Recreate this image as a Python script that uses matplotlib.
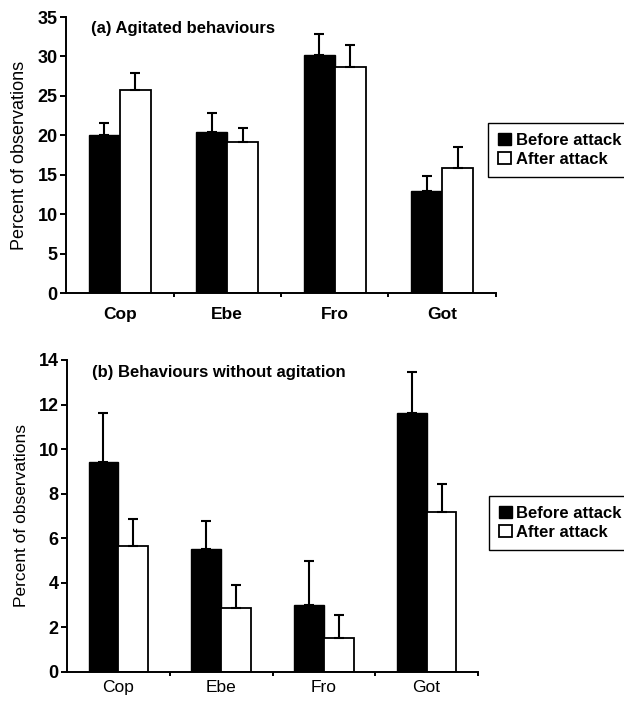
import matplotlib
matplotlib.use("Agg")
import matplotlib.pyplot as plt
import numpy as np

plt.rcParams['font.family'] = ['Liberation Sans', 'DejaVu Sans']

categories = ["Cop", "Ebe", "Fro", "Got"]
series_names = ["Before attack", "After attack"]

# (a) Agitated behaviours
a_before = [20.0, 20.4, 30.2, 12.9]
a_before_err = [1.5, 2.4, 2.7, 2.0]
a_after = [25.7, 19.2, 28.6, 15.8]
a_after_err = [2.2, 1.7, 2.8, 2.7]

# (b) Behaviours without agitation
b_before = [9.4, 5.5, 3.0, 11.6]
b_before_err = [2.2, 1.25, 1.95, 1.85]
b_after = [5.66, 2.85, 1.5, 7.16]
b_after_err = [1.2, 1.05, 1.05, 1.26]

W, H = 624, 705
fig = plt.figure(figsize=(W/100, H/100), dpi=100)


def legend_for(ax, anchor):
    h, l = ax.get_legend_handles_labels()
    leg = fig.legend(h, l, loc='upper left', bbox_to_anchor=anchor, fontsize=12,
                     frameon=True, fancybox=False, framealpha=1, edgecolor='black',
                     handlelength=0.75, handleheight=0.75, handletextpad=0.3,
                     labelspacing=0.22, borderpad=0.6, borderaxespad=0)
    leg.get_frame().set_linewidth(1.0)
    for t in leg.get_texts():
        t.set_fontweight('bold')


def panel(rect, before, before_err, after, after_err, ymax, ystep, title, title_pos,
          bold_ticks, xlab_pad, anchor, ylab_size, ylab_x):
    ax = fig.add_axes(rect)
    x = np.arange(len(categories))
    w = 0.29
    ekw = dict(ecolor='black', elinewidth=1.5, capsize=3.5, capthick=1.5)
    ax.bar(x - w/2, before, w, color='black', edgecolor='black', linewidth=1.0,
           yerr=[np.zeros(4), before_err], error_kw=ekw, label=series_names[0], zorder=2)
    ax.bar(x + w/2, after, w, color='white', edgecolor='black', linewidth=1.3,
           yerr=[np.zeros(4), after_err], error_kw=ekw, label=series_names[1], zorder=2)
    ax.set_xlim(-0.5, 3.5)
    ax.set_ylim(0, ymax)
    ax.set_yticks(np.arange(0, ymax + 0.01, ystep))
    for s in ['top', 'right']:
        ax.spines[s].set_visible(False)
    for s in ['left', 'bottom']:
        ax.spines[s].set_linewidth(1.4)
    weight = 'bold' if bold_ticks else 'normal'
    ax.set_xticks(x)
    ax.set_xticklabels(categories, fontsize=12.5, fontweight=weight)
    ax.tick_params(axis='x', which='major', length=0, pad=xlab_pad)
    ax.set_xticks([0.5, 1.5, 2.5, 3.5], minor=True)
    ax.tick_params(axis='x', which='minor', length=3, width=1.4, direction='out')
    ax.tick_params(axis='y', length=4, width=1.4, direction='out', labelsize=13, pad=2)
    for lab in ax.get_yticklabels():
        lab.set_fontweight('bold')
    ax.set_ylabel("Percent of observations", fontsize=ylab_size)
    ax.yaxis.set_label_coords(ylab_x, 0.5)
    fig.text(title_pos[0], title_pos[1], title, fontsize=12, fontweight='bold',
             ha='left', va='center')
    legend_for(ax, anchor)
    return ax


panel([66/W, 1-293/H, (496-66)/W, (293-17)/H], a_before, a_before_err, a_after, a_after_err,
      35, 5, "(a) Agitated behaviours", (91/W, 1-28/H), True, 10,
      (488/W, 1-123/H), 13, -0.088)
panel([67/W, 1-671.7/H, (478-67)/W, (671.7-360)/H], b_before, b_before_err, b_after, b_after_err,
      14, 2, "(b) Behaviours without agitation", (92/W, 1-372/H), False, 6,
      (489/W, 1-496/H), 12.5, -0.092)

fig.savefig("out.png", dpi=100)
